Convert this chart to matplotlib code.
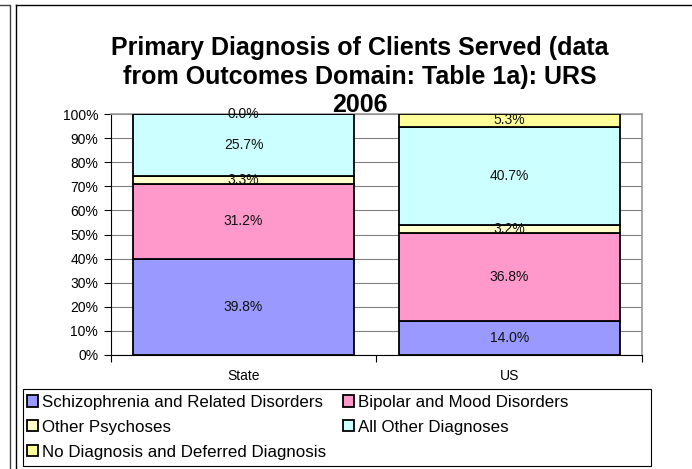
import matplotlib.pyplot as plt
from matplotlib.patches import Rectangle
from matplotlib.lines import Line2D
import numpy as np

plt.rcParams['font.family'] = ['Liberation Sans', 'DejaVu Sans']

groups = ["State", "US"]
series = ["Schizophrenia and Related Disorders", "Bipolar and Mood Disorders",
          "Other Psychoses", "All Other Diagnoses",
          "No Diagnosis and Deferred Diagnosis"]
schizo = [39.8, 14.0]
bipolar = [31.2, 36.8]
other_psy = [3.3, 3.2]
all_other = [25.7, 40.7]
no_diag = [0.0, 5.3]
colors = ["#9999FF", "#FF99CC", "#FFFFCC", "#CCFFFF", "#FFFF99"]
yticks = [0, 10, 20, 30, 40, 50, 60, 70, 80, 90, 100]
title_lines = ["Primary Diagnosis of Clients Served (data",
               "from Outcomes Domain: Table 1a): URS",
               "2006"]

W, H = 692, 469
fig = plt.figure(figsize=(W / 100, H / 100), dpi=100)

def fx(px):
    return px / W

def fy(py):
    return 1 - py / H

# frames around chart (neighbour object on the left + chart area border)
fig.add_artist(Line2D([fx(0), fx(10), fx(10)], [fy(5), fy(5), fy(469)],
                      color="#404040", lw=1.0))
fig.add_artist(Line2D([fx(15.5), fx(15.5)], [fy(5), fy(469)], color="black", lw=1.0))
fig.add_artist(Line2D([fx(15.5), fx(692)], [fy(5.5), fy(5.5)], color="black", lw=1.0))

ax = fig.add_axes([fx(110.7), fy(355), fx(642) - fx(110.7), fy(114) - fy(355)])

data = [schizo, bipolar, other_psy, all_other, no_diag]
x = np.arange(len(groups))
bottom = np.zeros(len(groups))
handles = []
for vals, col, name in zip(data, colors, series):
    b = ax.bar(x, vals, 0.832, bottom=bottom, color=col, edgecolor="black",
               linewidth=1.3, label=name, zorder=3)
    handles.append(b)
    for xi, v, b0 in zip(x, vals, bottom):
        ax.text(xi, b0 + v / 2, f"{v:.1f}%", ha="center", va="center",
                fontsize=10, color="#111111", zorder=4)
    bottom = bottom + np.array(vals)

ax.set_xlim(-0.5, 1.5)
ax.set_ylim(0, 100)
ax.set_yticks(yticks)
ax.set_yticklabels([f"{t}%" for t in yticks], fontsize=10)
ax.yaxis.grid(True, color="#808080", lw=0.8, zorder=0)
ax.tick_params(axis="y", direction="out", length=5, width=0.8, pad=4)

ax.set_xticks([-0.5, 0.5, 1.5])
ax.set_xticklabels([])
ax.set_xticks(x, minor=True)
ax.set_xticklabels(groups, minor=True, fontsize=10)
ax.tick_params(axis="x", which="major", direction="out", length=5, width=0.8)
ax.tick_params(axis="x", which="minor", length=0, pad=10)

for s in ["top", "right"]:
    ax.spines[s].set_color("#999999")
    ax.spines[s].set_linewidth(1.2)
for s in ["left", "bottom"]:
    ax.spines[s].set_color("black")
    ax.spines[s].set_linewidth(0.8)

for line, base in zip(title_lines, [55, 84, 112]):
    fig.text(fx(360), fy(base), line, ha="center", va="baseline",
             fontsize=18, fontweight="bold")

# legend box
fig.add_artist(Rectangle((fx(23), fy(466)), fx(651) - fx(23), fy(389) - fy(466),
                         fill=False, edgecolor="black", lw=0.8))
order = [0, 2, 4, 1, 3]
leg = fig.legend([handles[i] for i in order], [series[i] for i in order],
                 loc="upper left", bbox_to_anchor=(fx(27), fy(395)),
                 ncol=2, frameon=False, fontsize=12.2, borderpad=0,
                 borderaxespad=0, handlelength=0.63, handleheight=0.63,
                 handletextpad=0.25, labelspacing=0.58, columnspacing=1.0)

fig.savefig("out.png", dpi=100)
